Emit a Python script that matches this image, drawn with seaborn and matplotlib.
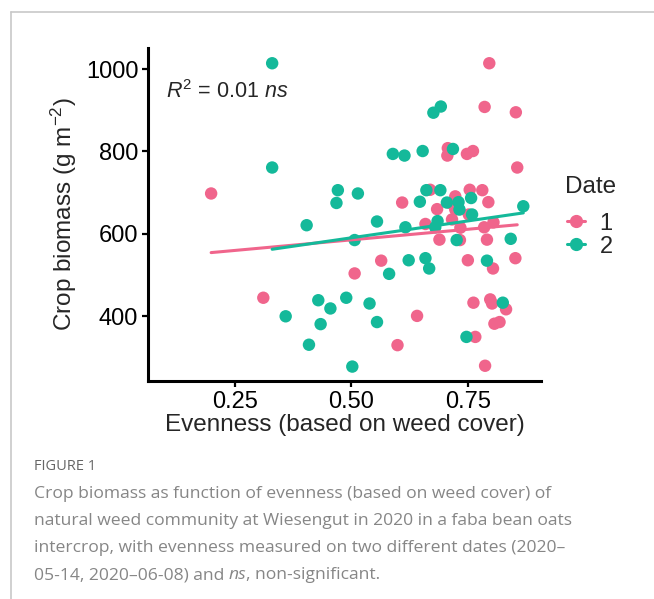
import matplotlib
matplotlib.use("Agg")
import matplotlib.pyplot as plt
from matplotlib.lines import Line2D
import seaborn as sns
import pandas as pd

# Evenness (based on weed cover) and crop biomass, date 1 (2020-05-14)
ev_d1 = [0.796, 0.786, 0.853, 0.707, 0.706, 0.748, 0.761, 0.856, 0.199, 0.609,
         0.669, 0.754, 0.781, 0.723, 0.794, 0.684, 0.723, 0.659, 0.716, 0.734,
         0.785, 0.805, 0.689, 0.791, 0.564, 0.750, 0.804, 0.852, 0.507, 0.641,
         0.599, 0.762, 0.798, 0.832, 0.807, 0.818, 0.766, 0.787, 0.311, 0.802,
         0.728, 0.712, 0.752, 0.733]
bm_d1 = [1014, 908, 895, 808, 790, 794, 801, 761, 698, 676,
         707, 707, 706, 691, 677, 660, 659, 624, 635, 615,
         616, 628, 586, 586, 535, 536, 516, 541, 504, 401,
         330, 433, 441, 417, 382, 386, 350, 280, 445, 431,
         676, 675, 647, 585]

# Date 2 (2020-06-08)
ev_d2 = [0.330, 0.692, 0.676, 0.330, 0.589, 0.614, 0.653, 0.718, 0.471, 0.468,
         0.514, 0.647, 0.661, 0.691, 0.705, 0.730, 0.757, 0.869, 0.732, 0.759,
         0.555, 0.616, 0.685, 0.680, 0.507, 0.726, 0.842, 0.623, 0.659, 0.667,
         0.791, 0.581, 0.489, 0.539, 0.555, 0.502, 0.825, 0.747, 0.404, 0.429,
         0.455, 0.359, 0.434, 0.409]
bm_d2 = [1014, 909, 894, 761, 794, 790, 801, 806, 706, 675,
         698, 678, 706, 706, 676, 677, 687, 667, 659, 647,
         630, 616, 631, 616, 585, 585, 588, 536, 541, 516,
         535, 503, 445, 431, 386, 278, 433, 350, 621, 439,
         419, 400, 381, 331]

dates = ["1", "2"]
x_ticks = [0.25, 0.50, 0.75]
x_tick_labels = ["0.25", "0.50", "0.75"]
y_ticks = [400, 600, 800, 1000]
r2_label = "$R^2$ = 0.01 $ns$"

caption_head = "FIGURE 1"
caption_lines = [
    "Crop biomass as function of evenness (based on weed cover) of",
    "natural weed community at Wiesengut in 2020 in a faba bean oats",
    "intercrop, with evenness measured on two different dates (2020\u2013",
    "05-14, 2020\u201306-08) and ",
]

df = pd.DataFrame({
    "Evenness": ev_d1 + ev_d2,
    "Biomass": bm_d1 + bm_d2,
    "Date": [dates[0]] * len(ev_d1) + [dates[1]] * len(ev_d2),
})

sns.set_style("white")
plt.rcParams["font.family"] = ["Liberation Sans", "DejaVu Sans"]
plt.rcParams["mathtext.fontset"] = "custom"
plt.rcParams["mathtext.rm"] = "Liberation Sans"
plt.rcParams["mathtext.it"] = "Liberation Sans:italic"

palette = {"1": "#F0658C", "2": "#14B99A"}

fig = plt.figure(figsize=(6.54, 5.99), dpi=100)
ax = fig.add_axes([148 / 654, 1 - 381 / 599, (541 - 148) / 654, (381 - 48) / 599])

sns.scatterplot(data=df, x="Evenness", y="Biomass", hue="Date", palette=palette,
                s=80, linewidth=0, alpha=1, legend=False, ax=ax, zorder=3)
for d in dates:
    sub = df[df["Date"] == d]
    sns.regplot(data=sub, x="Evenness", y="Biomass", scatter=False, ci=None,
                color=palette[d], line_kws={"linewidth": 2.2, "zorder": 4}, ax=ax)

ax.set_xlim(0.0635, 0.907)
ax.set_ylim(243, 1051)
ax.set_xticks(x_ticks)
ax.set_xticklabels(x_tick_labels)
ax.set_yticks(y_ticks)
ax.tick_params(axis="both", labelsize=17, colors="black", length=4, width=1.6,
               direction="out", pad=3)
ax.tick_params(left=True, bottom=True)
for side in ["top", "right"]:
    ax.spines[side].set_visible(False)
for side in ["left", "bottom"]:
    ax.spines[side].set_color("black")
    ax.spines[side].set_linewidth(2.2)

ax.set_xlabel("Evenness (based on weed cover)", fontsize=17.5, labelpad=1)
ax.set_ylabel("Crop biomass (g m$^{-2}$)", fontsize=17.5, labelpad=5)

ax.text(0.045, 0.87, r2_label, transform=ax.transAxes, fontsize=15.5,
        ha="left", va="center")

# Legend: title drawn as text, keys with point and line
fig.text(565 / 654, 1 - 187 / 599, "Date", fontsize=17.5, ha="left", va="center")
handles = [Line2D([0], [0], color=palette[d], marker="o", markersize=8.5,
                  linewidth=2.2) for d in dates]
fig.legend(handles, dates, loc="upper left",
           bbox_to_anchor=(550 / 654, 1 - 196 / 599), frameon=False,
           fontsize=17, handlelength=0.8, handletextpad=0.6,
           labelspacing=0.05, borderpad=0.2)

# Panel frame (top and left edges)
fig.add_artist(Line2D([11 / 654, 11 / 654], [0, 1 - 12 / 599],
                      color="#c8c8c8", linewidth=1.2))
fig.add_artist(Line2D([11 / 654, 1], [1 - 12 / 599, 1 - 12 / 599],
                      color="#c8c8c8", linewidth=1.2))

# Caption
cap_font = ["Open Sans", "DejaVu Sans"]
cap_col = "#868686"
fig.text(34 / 654, 1 - 466 / 599, caption_head, fontsize=10.5, color="#666666",
         family=cap_font, va="center", ha="left")
line_y = [494, 521, 548, 575]
for i, line in enumerate(caption_lines):
    t = fig.text(34 / 654, 1 - line_y[i] / 599, line, fontsize=12.6,
                 color=cap_col, family=cap_font, va="center", ha="left")
# Final caption line ends with italic "ns"
fig.canvas.draw()
r = fig.canvas.get_renderer()
bb = t.get_window_extent(renderer=r)
t2 = fig.text(bb.x1 / fig.bbox.width, 1 - line_y[3] / 599, "ns", fontsize=12.6,
              color=cap_col, family=cap_font, style="italic", va="center", ha="left")
bb2 = t2.get_window_extent(renderer=r)
fig.text(bb2.x1 / fig.bbox.width, 1 - line_y[3] / 599, ", non-significant.",
         fontsize=12.6, color=cap_col, family=cap_font, va="center", ha="left")

fig.savefig("out.png", dpi=100, facecolor="white")
